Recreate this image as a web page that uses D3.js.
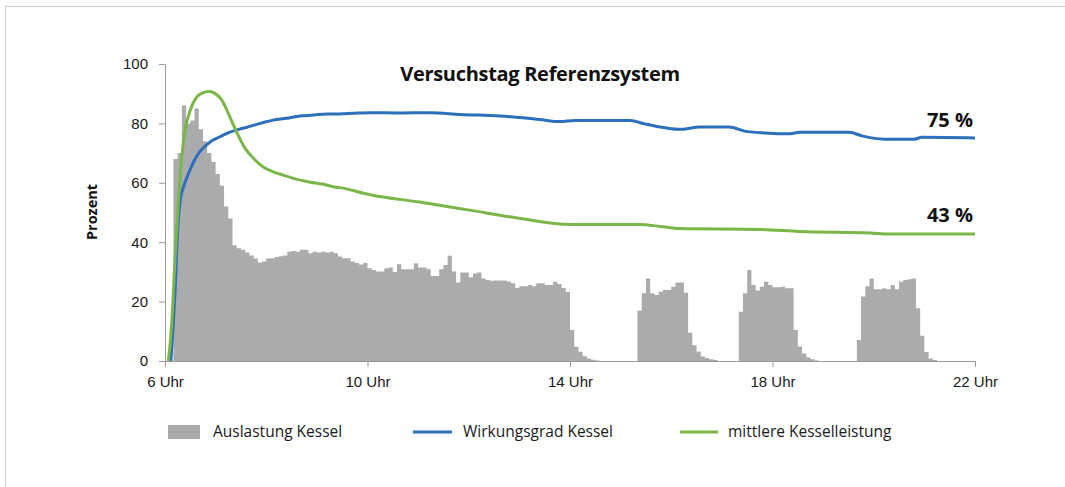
<!DOCTYPE html>
<html>
<head>
<meta charset="utf-8">
<script src="https://cdn.jsdelivr.net/npm/d3@7"></script>
<style>
  body { margin: 0; background: #fff; }
  svg { display: block; font-family: "Open Sans", sans-serif; }
  .axis path, .axis line { stroke: #9b9b9b; }
  .axis text { font-size: 15px; fill: #1a1a1a; }
</style>
</head>
<body>
<div id="chart"></div>
<script>
// Auslastung Kessel, 5-minute bins from 6:00 to 22:00 (one row per hour)
const auslastung = [
  0, 0, 68, 70, 86, 80, 81, 85, 78, 74, 70, 67,
  63, 59, 52, 48, 39, 38, 37.5, 36.5, 35.5, 34.5, 33.2, 33.5,
  34.5, 34.6, 35, 35.3, 35.5, 36.8, 37, 36.8, 37.5, 37.5, 36.3, 36.8,
  36.5, 36.8, 36.5, 36.8, 36.3, 35.2, 34.6, 34.6, 33.5, 33, 32.5, 33,
  31.2, 30.6, 30.1, 30.1, 31.2, 31.5, 30, 32.6, 30.9, 30.9, 30.9, 32.9,
  31.5, 31.5, 30.9, 28.6, 28.6, 30.9, 32.3, 35.4, 30.1, 26.4, 29.8, 29.8,
  28.2, 29.5, 29.8, 27.8, 27.3, 27, 27.1, 27.1, 27.1, 26.8, 26.2, 24.6,
  25.2, 25.2, 25.6, 25.2, 26.2, 26.2, 25.6, 25.6, 26.7, 25.9, 24.6, 23.2,
  10.4, 4.8, 3.1, 1.6, 0.8, 0.4, 0.2, 0, 0, 0, 0, 0,
  0, 0, 0, 0, 16.9, 22.8, 27.8, 22.8, 22.2, 23.3, 23.9, 23.9,
  25, 26.4, 26.4, 23, 9.5, 5.3, 3.2, 1.5, 1, 0.6, 0.3, 0,
  0, 0, 0, 0, 16.6, 22.8, 30.6, 25.6, 23.7, 25, 26.7, 25.6,
  24.8, 24.8, 25, 24.5, 24.5, 10.4, 4.9, 2.5, 1.2, 0.6, 0.2, 0,
  0, 0, 0, 0, 0, 0, 0, 0, 7.1, 21.7, 25.2, 27.8,
  24.2, 24.2, 24.5, 24.2, 25.6, 24.2, 26.7, 27.3, 27.5, 27.8, 17.8, 8.5,
  3, 0.8, 0.3, 0, 0, 0, 0, 0, 0, 0, 0, 0
];

// Wirkungsgrad Kessel
const wirkTimes = ["6:07", "6:12", "6:15", "6:18", "6:22", "6:28", "6:34", "6:41", "6:49", "6:57",
  "7:05", "7:13", "7:25", "7:37", "7:53", "8:08", "8:24", "8:40", "8:56", "9:12", "9:27", "9:43",
  "10:03", "10:38", "11:14", "11:50", "12:37", "13:24", "13:48", "14:06", "15:11", "15:29", "15:53",
  "16:10", "16:34", "17:09", "17:27", "17:51", "18:21", "18:32", "19:31", "19:46", "20:13", "20:48",
  "20:57", "22:00"];
const wirkValues = [0, 24, 44, 54, 58.7, 63.2, 67.1, 70.4, 72.7, 74.4,
  75.5, 76.6, 77.8, 78.7, 80, 81.1, 81.7, 82.5, 82.8, 83.2, 83.2, 83.4,
  83.6, 83.5, 83.6, 83, 82.5, 81.3, 80.6, 81, 81, 79.8, 78.5,
  78, 78.8, 78.8, 77.4, 76.8, 76.5, 77, 77, 75.8, 74.7, 74.7,
  75.3, 75.1];

// mittlere Kesselleistung
const leistTimes = ["6:04", "6:08", "6:12", "6:16", "6:20", "6:24", "6:30", "6:38", "6:45", "6:53",
  "6:59", "7:07", "7:15", "7:25", "7:35", "7:45", "7:56", "8:08", "8:20", "8:32", "8:44", "8:56",
  "9:08", "9:19", "9:31", "9:43", "9:55", "10:03", "11:02", "12:01", "13:01", "14:00", "15:23",
  "15:47", "16:10", "17:45", "18:32", "19:56", "20:19", "22:00"];
const leistValues = [0, 12.7, 35, 54, 69, 78, 84.5, 89, 90.3, 90.7,
  90.1, 88, 83.4, 77, 71.6, 68.2, 65.4, 63.7, 62.6, 61.5, 60.7, 60,
  59.5, 58.7, 58.2, 57.4, 56.5, 56, 53.5, 50.8, 48, 46, 46,
  45.3, 44.6, 44.3, 43.6, 43.1, 42.8, 42.8];

const yTicks = [0, 20, 40, 60, 80, 100];
const xTicks = [6, 10, 14, 18, 22];
const endLabels = ["75 %", "43 %"];
const legendLabels = ["Auslastung Kessel", "Wirkungsgrad Kessel", "mittlere Kesselleistung"];

const colors = { bar: "#a9abad", blue: "#2b6fbd", green: "#7ab648" };

const W = 1065, H = 487;
const margin = { top: 64, left: 165, right: 90, bottom: 126 };

function toHours(s) {
  const p = s.split(":");
  return +p[0] + (+p[1]) / 60;
}

const svg = d3.select("#chart").append("svg")
  .attr("width", W).attr("height", H);

// outer frame (only left and top edges are in view)
svg.append("path")
  .attr("d", "M5.5," + H + "V6.5H" + W)
  .attr("fill", "none").attr("stroke", "#c8c8c8").attr("stroke-width", 1);

const x = d3.scaleLinear().domain([6, 22]).range([margin.left, W - margin.right]);
const y = d3.scaleLinear().domain([0, 100]).range([H - margin.bottom, margin.top]);

// gray step area
const barPts = auslastung.map((v, i) => [6 + i * 5 / 60, v]);
barPts.push([22, 0]);
const area = d3.area()
  .curve(d3.curveStepAfter)
  .x(d => x(d[0]))
  .y0(y(0))
  .y1(d => y(d[1]));
svg.append("path").datum(barPts)
  .attr("d", area)
  .attr("fill", colors.bar);

// axes
const yAxis = d3.axisLeft(y).tickValues(yTicks).tickSize(6).tickSizeOuter(0).tickPadding(11);
svg.append("g").attr("class", "axis")
  .attr("transform", "translate(" + margin.left + ",0)")
  .call(yAxis);

const xAxis = d3.axisBottom(x).tickValues(xTicks).tickSize(6).tickSizeOuter(0).tickPadding(9)
  .tickFormat(d => d + " Uhr");
svg.append("g").attr("class", "axis")
  .attr("transform", "translate(0," + y(0) + ")")
  .call(xAxis);

// lines
const line = d3.line()
  .curve(d3.curveMonotoneX)
  .x(d => x(d[0]))
  .y(d => y(d[1]));

const wirk = wirkTimes.map((t, i) => [toHours(t), wirkValues[i]]);
const leist = leistTimes.map((t, i) => [toHours(t), leistValues[i]]);

svg.append("path").datum(wirk)
  .attr("d", line)
  .attr("fill", "none").attr("stroke", colors.blue).attr("stroke-width", 3);

svg.append("path").datum(leist)
  .attr("d", line)
  .attr("fill", "none").attr("stroke", colors.green).attr("stroke-width", 3);

// end labels
svg.append("text")
  .attr("x", x(22) - 2).attr("y", y(wirkValues[wirkValues.length - 1]) - 11)
  .attr("text-anchor", "end")
  .style("font-size", "20px").style("font-weight", "bold").attr("fill", "#111")
  .text(endLabels[0]);
svg.append("text")
  .attr("x", x(22) - 2).attr("y", y(leistValues[leistValues.length - 1]) - 12)
  .attr("text-anchor", "end")
  .style("font-size", "20px").style("font-weight", "bold").attr("fill", "#111")
  .text(endLabels[1]);

// title
svg.append("text")
  .attr("x", 540).attr("y", 81)
  .attr("text-anchor", "middle")
  .style("font-size", "20px").style("font-weight", "bold").style("letter-spacing", "-0.3px")
  .attr("fill", "#111")
  .text("Versuchstag Referenzsystem");

// y label
svg.append("text")
  .attr("transform", "translate(97,212) rotate(-90)")
  .attr("text-anchor", "middle")
  .style("font-size", "14.5px").style("font-weight", "bold")
  .attr("fill", "#111")
  .text("Prozent");

// legend
const legY = 432;
const legend = svg.append("g");
legend.append("rect")
  .attr("x", 168).attr("y", legY - 7).attr("width", 32).attr("height", 14)
  .attr("fill", colors.bar);
legend.append("line")
  .attr("x1", 413).attr("x2", 452).attr("y1", legY).attr("y2", legY)
  .attr("stroke", colors.blue).attr("stroke-width", 3);
legend.append("line")
  .attr("x1", 680).attr("x2", 718).attr("y1", legY).attr("y2", legY)
  .attr("stroke", colors.green).attr("stroke-width", 3);

const legX = [213, 463, 728];
legend.selectAll("text.leg").data(legendLabels).enter().append("text")
  .attr("class", "leg")
  .attr("x", (d, i) => legX[i]).attr("y", legY + 5)
  .style("font-size", "15.5px").attr("fill", "#1a1a1a")
  .text(d => d);
</script>
</body>
</html>
